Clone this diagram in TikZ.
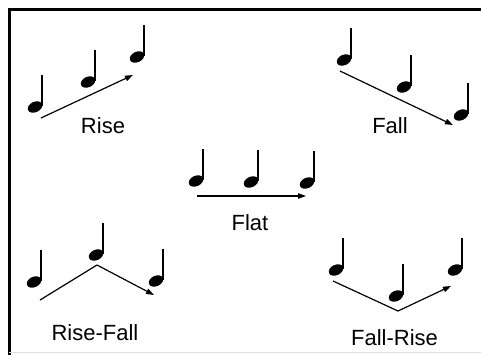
\documentclass[tikz,border=0pt]{standalone}
\usepackage{fontspec}
\setmainfont{Liberation Sans}
\usetikzlibrary{arrows.meta}
\tikzset{
  x=1pt,y=1pt,
  note/.pic={
    \fill[rotate=25] (0,0) ellipse (7.6pt and 5.2pt);
    \draw[line width=1.5pt] (7.2,1) -- (7.2,32);
  },
  contour/.style={line width=1.2pt, -{Triangle[length=8pt,width=5.5pt]}},
  plainline/.style={line width=1.2pt},
  label/.style={anchor=base, inner sep=0pt, font=\fontsize{22}{26}\selectfont},
  frame/.style={line width=3pt}
}
\begin{document}
\begin{tikzpicture}
\useasboundingbox (0,0) rectangle (481,-354);
\fill[white] (0,0) rectangle (481,-354);
% frame
\coordinate (fb) at (9,-356);
\coordinate (fc) at (9,-9);
\coordinate (fr) at (483,-9);
\draw[frame] (fb) -- (fc) -- (fr);
\coordinate (gl) at (9,-352.5);
\coordinate (gr) at (481,-352.5);
\draw[gray!25, line width=0.8pt] (gl) -- (gr);

% Rise
\pic at (35,-107) {note};
\pic at (88,-82) {note};
\pic at (137,-57) {note};
\coordinate (r1) at (41,-118);
\coordinate (r2) at (133,-75);
\draw[contour] (r1) -- (r2);
\node[label] (rise) at (103,-133) {Rise};

% Fall
\pic at (344,-60) {note};
\pic at (404,-87) {note};
\pic at (461,-115) {note};
\coordinate (f1) at (340,-71);
\coordinate (f2) at (453,-125);
\draw[contour] (f1) -- (f2);
\node[label] (fall) at (390,-133) {Fall};

% Flat
\pic at (196,-181) {note};
\pic at (251,-182) {note};
\pic at (307,-183) {note};
\coordinate (l1) at (197,-196);
\coordinate (l2) at (306,-196);
\draw[contour] (l1) -- (l2);
\node[label] (flat) at (250,-230) {Flat};

% Rise-Fall
\pic at (34,-282) {note};
\pic at (96,-255) {note};
\pic at (156,-281) {note};
\coordinate (rf1) at (40,-300);
\coordinate (rf2) at (97,-265);
\coordinate (rf3) at (154,-295);
\draw[plainline] (rf1) -- (rf2);
\draw[contour] (rf2) -- (rf3);
\node[label] (risefall) at (95,-340) {Rise-Fall};

% Fall-Rise
\pic at (336,-270) {note};
\pic at (396,-296) {note};
\pic at (455,-270) {note};
\coordinate (fr1) at (333,-281);
\coordinate (fr2) at (398,-311);
\coordinate (fr3) at (451,-286);
\draw[plainline] (fr1) -- (fr2);
\draw[contour] (fr2) -- (fr3);
\node[label] (fallrise) at (394.5,-345) {Fall-Rise};
\end{tikzpicture}
\end{document}
